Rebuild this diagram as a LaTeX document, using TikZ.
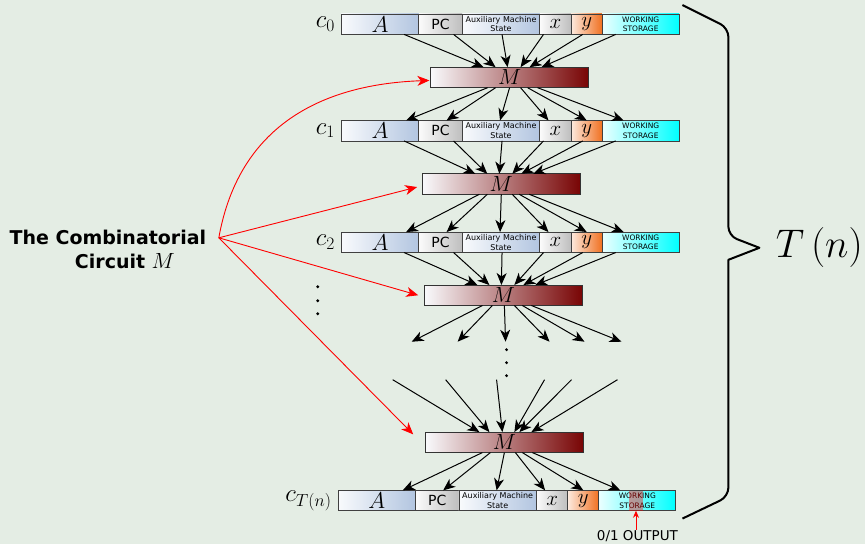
\documentclass[tikz,border=0pt]{standalone}
\usepackage{fix-cm}
\usepackage{fontspec}
\setsansfont{DejaVu Sans}
\usetikzlibrary{positioning,arrows.meta}

\definecolor{paper}{RGB}{228,237,228}
\definecolor{regblue}{RGB}{178,197,224}
\definecolor{reggray}{RGB}{190,190,190}
\definecolor{regorange}{RGB}{240,112,32}
\definecolor{mdark}{RGB}{120,4,4}

\begin{document}
\begin{tikzpicture}[
  x=1pt, y=-1pt,
  cell/.style={
    draw=black!75, line width=0.8pt,
    inner sep=0pt, outer sep=0pt,
    minimum height=20.5pt, align=center
  },
  regA/.style={cell, minimum width=77.5pt,
    left color=white!92!regblue, right color=regblue,
    font=\fontsize{23}{23}\selectfont},
  regpc/.style={cell, minimum width=43.5pt,
    left color=white!94!reggray, right color=reggray,
    font=\sffamily\fontsize{14}{14}\selectfont},
  regaux/.style={cell, minimum width=77.5pt,
    left color=white!92!regblue, right color=regblue,
    font=\sffamily\fontsize{8}{9.5}\selectfont},
  regx/.style={cell, minimum width=31.5pt,
    left color=white!94!reggray, right color=reggray,
    font=\fontsize{21}{21}\selectfont},
  regy/.style={cell, minimum width=31pt,
    left color=white!85!regorange, right color=regorange,
    font=\fontsize{21}{21}\selectfont},
  regws/.style={cell, minimum width=77pt,
    left color=white!92!cyan, middle color=white!70!cyan, right color=cyan,
    font=\sffamily\fontsize{7.5}{9.5}\selectfont},
  circuit/.style={
    draw=black!80, line width=0.8pt,
    inner sep=0pt, outer sep=0pt,
    minimum width=158.5pt, minimum height=20.5pt,
    left color=white!92!regblue, right color=mdark,
    font=\fontsize{22}{22}\selectfont
  },
  flow/.style={-{Stealth[length=12pt,width=10pt,inset=3.5pt]}, line width=1pt},
  feed/.style={red, line width=0.9pt, -{Stealth[length=12pt,width=10pt,inset=3.5pt]}}
]

% background
\fill[paper] (0,0) rectangle (866,544);

% =====================================================
% CONFIGURATIONS
% =====================================================

\foreach \r/\x/\y/\lab in {0/341.7/24.2/0, 1/341.7/130.8/1, 2/341.7/242.5/2, T/338.3/501/T(n)} {
  \node[regA, anchor=west] (c\r A) at (\x,\y) {$A$};
  \node[regpc, right=0pt of c\r A] (c\r pc) {PC};
  \node[regaux, right=0pt of c\r pc] (c\r aux) {Auxiliary Machine\\State};
  \node[regx, right=0pt of c\r aux] (c\r x) {$x$};
  \node[regy, right=0pt of c\r x] (c\r y) {$y$};
  \node[regws, right=0pt of c\r y] (c\r ws) {WORKING\\STORAGE};
  \node[left=3pt of c\r A, font=\fontsize{25}{25}\selectfont] (lab\r) {$c_{\lab}$};
}

% =====================================================
% CIRCUIT COPIES
% =====================================================

\node[circuit] (m1) at (510,77.5) {$M$};
\node[circuit] (m2) at (501.7,184.2) {$M$};
\node[circuit] (m3) at (503.8,295.5) {$M$};
\node[circuit] (m4) at (504.8,442.7) {$M$};

% configuration -> circuit
\foreach \from/\to in {c0/m1, c1/m2, c2/m3}
  \foreach \cell/\a/\b in {A/24/-26, pc/13/-14, aux/1/-2, x/-12/11, y/-4/20, ws/-25/32}
    \draw[flow] ([xshift=\a pt]\from\cell.south) -- ([xshift=\b pt]\to.north);

% circuit -> configuration
\foreach \from/\to in {m1/c1, m2/c2, m4/cT}
  \foreach \cell/\a/\b in {A/-22/26, pc/-14/6, aux/0/-1, x/11/-7, y/18/0, ws/28/-17}
    \draw[flow] ([xshift=\a pt]\from.south) -- ([xshift=\b pt]\to\cell.north);

% loose ends around the gap
\foreach \i/\x in {1/412, 2/458, 3/506, 4/550, 5/585, 6/622}
  \coordinate (out\i) at (\x,342);
\foreach \i/\x in {1/393, 2/446, 3/497, 4/545, 5/572, 6/618}
  \coordinate (in\i) at (\x,380);

\foreach \i/\a in {1/-21, 2/-11, 3/1, 4/11, 5/19, 6/28}
  \draw[flow] ([xshift=\a pt]m3.south) -- (out\i);
\foreach \i/\b in {1/-25, 2/-15, 3/-2, 4/10, 5/15, 6/27}
  \draw[flow] (in\i) -- ([xshift=\b pt]m4.north);

% dots
\foreach \y in {350,363,376}
  \fill (507,\y) circle (1.6pt);
\foreach \y in {287,301,314}
  \fill (318,\y) circle (1.6pt);

% =====================================================
% CIRCUIT LABEL
% =====================================================

\node[font=\sffamily\bfseries\fontsize{19}{24}\selectfont, align=center] (circ) at (108,250)
{The Combinatorial\\\hspace*{34pt}Circuit {\mdseries\fontsize{22}{24}\selectfont$M$}};
\coordinate (src) at (219,238);

\draw[feed] (src) .. controls (240,120) and (330,84) .. ([xshift=-1pt,yshift=-3pt]m1.west);
\draw[feed] (src) -- ([xshift=-5pt,yshift=-3pt]m2.west);
\draw[feed] (src) -- ([xshift=-6pt]m3.west);
\draw[feed] (src) -- ([xshift=-12pt,yshift=8pt]m4.west);

% =====================================================
% OUTPUT BIT
% =====================================================

\node[fill=red, fill opacity=0.4, minimum width=14pt, minimum height=20pt, inner sep=0pt] (bit) at (636.5,501) {};
\node[font=\sffamily\fontsize{13.5}{13.5}\selectfont, inner sep=1pt] (outlab) at (638,537) {0/1 OUTPUT};
\draw[red, line width=0.9pt, -{Stealth[length=7pt,width=6pt]}] (outlab.north -| bit.south) -- (bit.south);

% =====================================================
% TIME BRACE
% =====================================================

\draw[line width=2pt, line join=round] (683,5) [rounded corners=9pt] -- (729,28) -- (729,236)
  [sharp corners] -- (760,248) -- (729,260) [rounded corners=9pt] -- (729,497) -- (683,519);
\node[font=\fontsize{40}{40}\selectfont] (time) at (820,248) {$T\left(n\right)$};

\end{tikzpicture}
\end{document}
